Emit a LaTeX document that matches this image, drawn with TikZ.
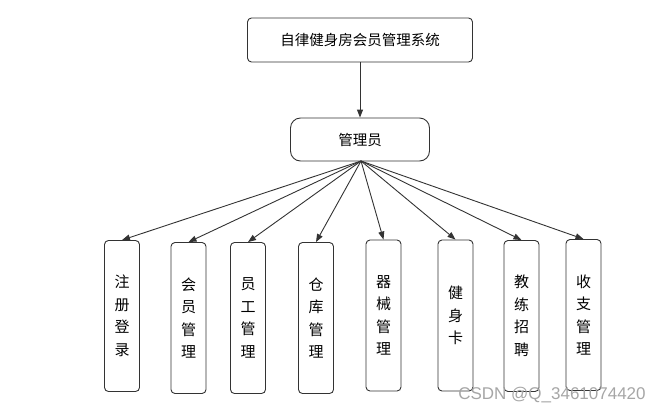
\documentclass[tikz,border=0pt]{standalone}
\usepackage{fontspec}
\setmainfont{Noto Sans CJK SC}
\newfontfamily\wmfont{Liberation Sans}
\usetikzlibrary{arrows.meta}
\begin{document}
\begin{tikzpicture}[x=1pt,y=-1pt,
  line/.style={draw=black!80,line width=0.9pt},
  topbox/.style={line,rounded corners=4pt,inner sep=0pt,font=\fontsize{14.5}{16}\selectfont},
  midbox/.style={line,rounded corners=10pt,inner sep=0pt,font=\fontsize{14.5}{16}\selectfont},
  leafbox/.style={line,rounded corners=4pt,inner sep=0pt,minimum width=35pt,minimum height=151pt,align=center,font=\fontsize{15}{22.5}\selectfont},
  arr/.style={line,-{Triangle[length=8pt,width=6pt]}}]
\useasboundingbox (0,0) rectangle (666,413);
\node[topbox,minimum width=225pt,minimum height=44pt] (sys) at (360,40) {自律健身房会员管理系统};
\node[midbox,minimum width=139pt,minimum height=43pt] (admin) at (360,139.5) {管理员};
\coordinate (hub) at (361,161);
\node[leafbox] (n1) at (122,316) {注\\册\\登\\录};
\node[leafbox] (n2) at (188.5,318) {会\\员\\管\\理};
\node[leafbox] (n3) at (248,318) {员\\工\\管\\理};
\node[leafbox] (n4) at (316,318) {仓\\库\\管\\理};
\node[leafbox] (n5) at (383.5,315.5) {器\\械\\管\\理};
\node[leafbox] (n6) at (455.5,315.5) {健\\身\\卡};
\node[leafbox] (n7) at (521.5,316) {教\\练\\招\\聘};
\node[leafbox] (n8) at (583.5,315) {收\\支\\管\\理};
\draw[arr] (sys.south) -- (admin.north);
\foreach \n in {n1,n2,n3,n4,n5,n6,n7,n8}{\draw[arr] (hub) -- (\n.north);}
\node[text=black!35,font=\wmfont\fontsize{17}{19}\selectfont,anchor=center,inner sep=0pt] (wm) at (552,395) {CSDN @Q\_3461074420};
\end{tikzpicture}
\end{document}
